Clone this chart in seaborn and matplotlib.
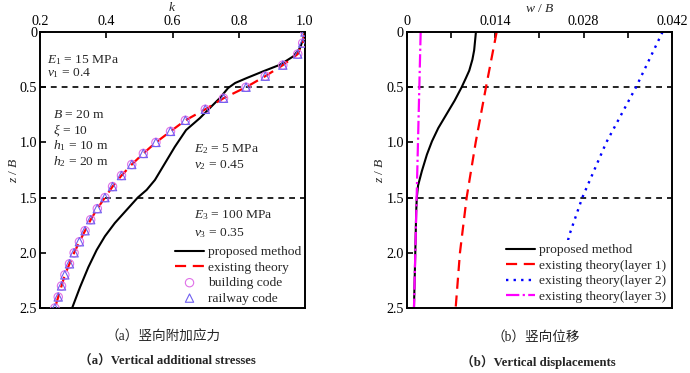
import numpy as np
import pandas as pd
import matplotlib
matplotlib.use('Agg')
import matplotlib.pyplot as plt
import seaborn as sns

# ---- data ----
# (a) vertical additional stress coefficient k
z_prop = [0, 0.03, 0.145, 0.22, 0.296, 0.356, 0.417, 0.462, 0.507, 0.598, 0.688, 0.779,
          0.888, 1.04, 1.19, 1.34, 1.43, 1.5, 1.61, 1.73, 1.85, 1.975, 2.13, 2.31, 2.5]
k_prop = [1.0, 0.998, 0.985, 0.965, 0.925, 0.874, 0.824, 0.789, 0.768, 0.743, 0.713, 0.683,
          0.641, 0.607, 0.577, 0.547, 0.522, 0.495, 0.462, 0.426, 0.396, 0.371, 0.346, 0.321, 0.297]

z_code = [0, 0.1, 0.2, 0.3, 0.4, 0.5, 0.6, 0.7, 0.8, 0.9, 1.0, 1.1, 1.2, 1.3,
          1.4, 1.5, 1.6, 1.7, 1.8, 1.9, 2.0, 2.1, 2.2, 2.3, 2.4, 2.5]
k_exist = [1.0, 0.993, 0.978, 0.933, 0.880, 0.822, 0.754, 0.699, 0.639, 0.594, 0.550, 0.512, 0.477,
           0.446, 0.419, 0.396, 0.373, 0.353, 0.336, 0.319, 0.303, 0.289, 0.275, 0.265, 0.255, 0.245]
k_building = [1.0, 0.993, 0.978, 0.933, 0.880, 0.822, 0.754, 0.699, 0.639, 0.594, 0.550, 0.512, 0.477,
              0.446, 0.419, 0.396, 0.373, 0.353, 0.336, 0.319, 0.303, 0.289, 0.275, 0.265, 0.255, 0.245]
k_railway = [1.0, 0.993, 0.978, 0.933, 0.880, 0.822, 0.754, 0.699, 0.639, 0.594, 0.550, 0.512, 0.477,
             0.446, 0.419, 0.396, 0.373, 0.353, 0.336, 0.319, 0.303, 0.289, 0.275, 0.265, 0.255, 0.245]

# (b) vertical displacement w / B
zw_prop = [0, 0.165, 0.25, 0.35, 0.42, 0.5, 0.62, 0.745, 0.87, 0.99, 1.11, 1.26, 1.39, 1.5,
           1.63, 2.0, 2.5]
w_prop = [0.01096, 0.01068, 0.01040, 0.00990, 0.00935, 0.0087, 0.0076, 0.0063, 0.0050, 0.0040,
          0.0032, 0.0024, 0.0018, 0.0016, 0.00150, 0.00136, 0.00115]
zw_l1 = [0, 0.5, 1.0, 1.5, 2.0, 2.5]
w_l1 = [0.01424, 0.01255, 0.01092, 0.00949, 0.00843, 0.00775]
zw_l2 = [0, 0.5, 1.0, 1.5, 1.83, 2.0, 2.5]
w_l2 = [0.0405, 0.0363, 0.0316, 0.0278, 0.0258, 0.0250, 0.0227]
zw_l3 = [0, 2.5]
w_l3 = [0.00221, 0.00115]

k_ticks = [0.2, 0.4, 0.6, 0.8, 1.0]
w_ticks = [0, 0.007, 0.014, 0.021, 0.028, 0.035, 0.042]
w_labels = ['0', '', '0.014', '', '0.028', '', '0.042']
z_ticks = [0, 0.5, 1.0, 1.5, 2.0, 2.5]
z_labels = ['0', '0.5', '1.0', '1.5', '2.0', '2.5']

sns.set_theme(style='white')
plt.rcParams['font.family'] = ['Liberation Serif', 'Noto Sans CJK SC', 'DejaVu Sans']
plt.rcParams['mathtext.fontset'] = 'custom'
plt.rcParams['mathtext.rm'] = 'Liberation Serif'
plt.rcParams['mathtext.it'] = 'Liberation Serif:italic'
plt.rcParams['axes.edgecolor'] = 'black'
plt.rcParams['axes.linewidth'] = 1.4

fig = plt.figure(figsize=(6.9, 3.73), dpi=100)
ax1 = fig.add_axes([40 / 690, 1 - 308 / 373, 265 / 690, 276 / 373])
ax2 = fig.add_axes([406.7 / 690, 1 - 308 / 373, 265.3 / 690, 276 / 373])

fs = 9.7
tfs = 10.2

# ---- panel (a) ----
sns.lineplot(x=k_prop, y=z_prop, sort=False, color='black', lw=1.5, ax=ax1, label='proposed method')
sns.lineplot(x=k_exist, y=z_code, sort=False, color='red', lw=1.6, ax=ax1,
             label='existing theory').lines[-1].set_dashes((5, 3))
sns.scatterplot(x=k_building, y=z_code, marker='o', s=36, facecolors='none', edgecolor='#e070e8',
                linewidth=0.8, ax=ax1, label='building code', zorder=3)
sns.scatterplot(x=k_railway, y=z_code, marker='^', s=36, facecolors='none', edgecolor='#7060f0',
                linewidth=0.8, ax=ax1, label='railway code', zorder=3)

# ---- panel (b) ----
sns.lineplot(x=w_prop, y=zw_prop, sort=False, color='black', lw=1.5, ax=ax2, label='proposed method')
l1 = sns.lineplot(x=w_l1, y=zw_l1, sort=False, color='red', lw=1.6, ax=ax2,
                  label='existing theory(layer 1)').lines[-1]
l1.set_dashes((5, 3))
l2 = sns.lineplot(x=w_l2, y=zw_l2, sort=False, color='blue', lw=1.7, ax=ax2,
                  label='existing theory(layer 2)').lines[-1]
l2.set_dashes((1, 2.2))
l3 = sns.lineplot(x=w_l3, y=zw_l3, sort=False, color='magenta', lw=1.6, ax=ax2,
                  label='existing theory(layer 3)').lines[-1]
l3.set_dashes((6, 1.5, 1, 1.5))

for ax in (ax1, ax2):
    for zz in (0.5, 1.5):
        ax.axhline(zz, color='black', lw=1.2, dashes=(3.5, 3), zorder=1)
    ax.set_ylim(2.5, 0)
    ax.set_yticks(z_ticks)
    ax.set_yticklabels(z_labels)
    ax.xaxis.tick_top()
    ax.xaxis.set_label_position('top')
    ax.tick_params(axis='both', direction='in', length=4, width=1.2, labelsize=tfs,
                   colors='black', pad=2)
    ax.tick_params(axis='x', pad=3)
    ax.tick_params(top=True, bottom=False, left=True, right=False)
    ax.set_ylabel('$z$ / $B$', fontsize=fs, labelpad=0)

ax1.set_xlim(0.2, 1.0)
ax1.set_xticks(k_ticks)
ax1.set_xticklabels(['0.2', '0.4', '0.6', '0.8', '1.0'])
ax1.set_xlabel('$k$', fontsize=fs, labelpad=3)

ax2.set_xlim(0, 0.042)
ax2.set_xticks(w_ticks)
ax2.set_xticklabels(w_labels)
ax2.set_xlabel('$w$ / $B$', fontsize=fs, labelpad=2)

# annotations in panel (a)
tk = dict(transform=ax1.transData, fontsize=fs, va='center', ha='left')
ax1.text(0.221, 0.25, '$E_1$ = 15 MPa', **tk)
ax1.text(0.221, 0.37, r'$\nu_1$ = 0.4', **tk)
ax1.text(0.238, 0.75, '$B$ = 20 m', **tk)
ax1.text(0.238, 0.89, r'$\xi$ = 10', **tk)
ax1.text(0.238, 1.03, '$h_1$ = 10 m', **tk)
ax1.text(0.238, 1.17, '$h_2$ = 20 m', **tk)
ax1.text(0.665, 1.06, '$E_2$ = 5 MPa', **tk)
ax1.text(0.665, 1.21, r'$\nu_2$ = 0.45', **tk)
ax1.text(0.665, 1.66, '$E_3$ = 100 MPa', **tk)
ax1.text(0.665, 1.82, r'$\nu_3$ = 0.35', **tk)

ax1.legend(loc='lower right', frameon=False, fontsize=fs, handlelength=2.2,
           handletextpad=0.3, labelspacing=0.22, borderaxespad=0.05, borderpad=0.2)
leg2 = ax2.legend(loc='lower right', frameon=True, fontsize=fs, handlelength=2.2,
                  handletextpad=0.3, labelspacing=0.22, borderaxespad=0.1, borderpad=0.3,
                  fancybox=False, framealpha=1)
leg2.get_frame().set_edgecolor('none')
leg2.get_frame().set_facecolor('white')

# captions
cap = ['Liberation Serif', 'Noto Sans CJK SC']
fig.text(0.236, 1 - 337 / 373, '（a）竖向附加应力', ha='center', va='center', fontsize=9.8, family=cap)
fig.text(0.242, 1 - 362 / 373, '（a）Vertical additional stresses', ha='center', va='center',
         fontsize=9.2, fontweight='bold', family=cap)
fig.text(0.777, 1 - 337 / 373, '（b）竖向位移', ha='center', va='center', fontsize=9.8, family=cap)
fig.text(0.780, 1 - 362 / 373, '（b）Vertical displacements', ha='center', va='center',
         fontsize=9.2, fontweight='bold', family=cap)

fig.savefig('out.png', dpi=100)
